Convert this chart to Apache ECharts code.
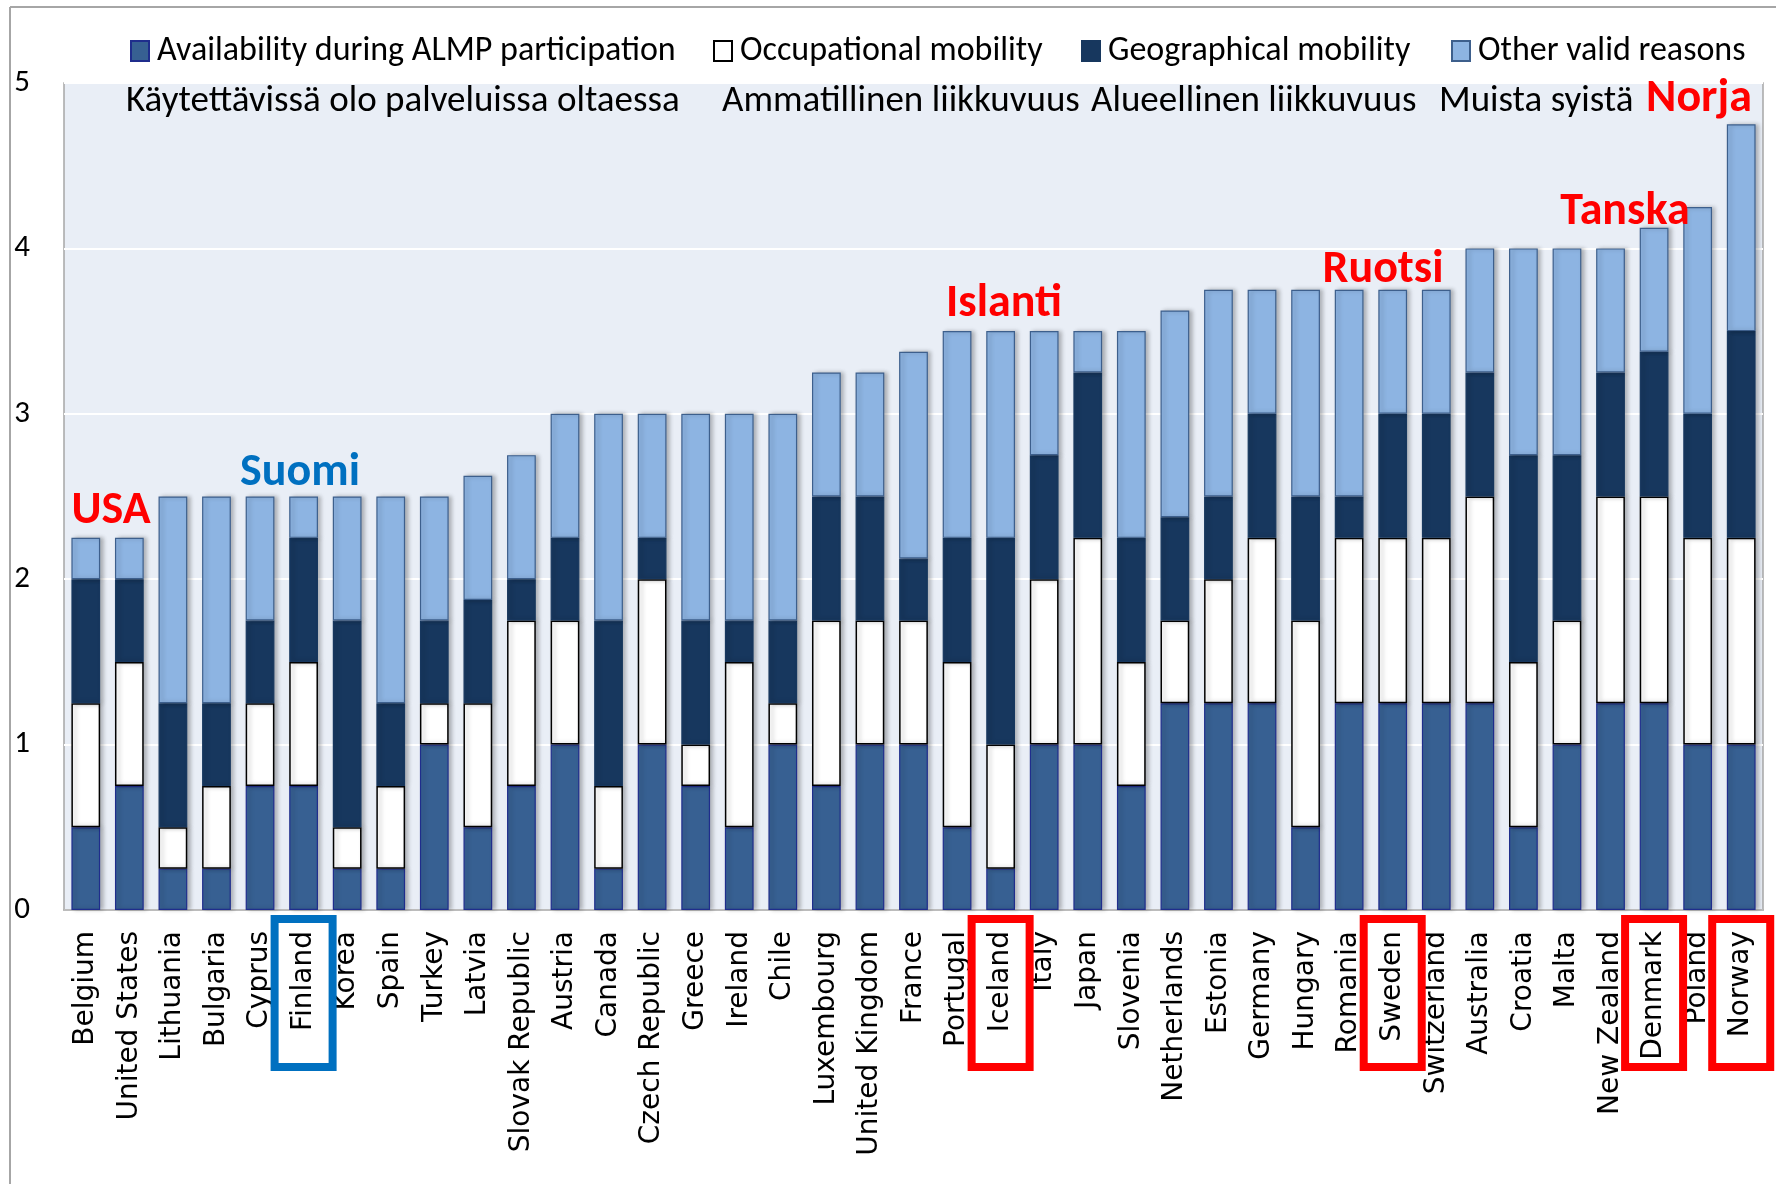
<!DOCTYPE html>
<html>
<head>
<meta charset="UTF-8">
<title>ALMP</title>
<script src="https://cdn.jsdelivr.net/npm/echarts@6/dist/echarts.min.js"></script>
<style>
html, body { margin: 0; padding: 0; background: #fff; }
#main { width: 1776px; height: 1184px; }
</style>
</head>
<body>
<div id="main"></div>
<script>
// categories, left to right
var countries = ['Belgium', 'United States', 'Lithuania', 'Bulgaria', 'Cyprus', 'Finland', 'Korea', 'Spain',
	'Turkey', 'Latvia', 'Slovak Republic', 'Austria', 'Canada', 'Czech Republic', 'Greece', 'Ireland', 'Chile',
	'Luxembourg', 'United Kingdom', 'France', 'Portugal', 'Iceland', 'Italy', 'Japan', 'Slovenia', 'Netherlands',
	'Estonia', 'Germany', 'Hungary', 'Romania', 'Sweden', 'Switzerland', 'Australia', 'Croatia', 'Malta',
	'New Zealand', 'Denmark', 'Poland', 'Norway'];

// stacked segments
var availability = [0.5, 0.75, 0.25, 0.25, 0.75, 0.75, 0.25, 0.25, 1, 0.5, 0.75, 1, 0.25, 1, 0.75, 0.5, 1,
	0.75, 1, 1, 0.5, 0.25, 1, 1, 0.75, 1.25, 1.25, 1.25, 0.5, 1.25, 1.25, 1.25, 1.25, 0.5, 1, 1.25, 1.25, 1, 1];
var occupational = [0.75, 0.75, 0.25, 0.5, 0.5, 0.75, 0.25, 0.5, 0.25, 0.75, 1, 0.75, 0.5, 1, 0.25, 1, 0.25,
	1, 0.75, 0.75, 1, 0.75, 1, 1.25, 0.75, 0.5, 0.75, 1, 1.25, 1, 1, 1, 1.25, 1, 0.75, 1.25, 1.25, 1.25, 1.25];
var geographical = [0.75, 0.5, 0.75, 0.5, 0.5, 0.75, 1.25, 0.5, 0.5, 0.625, 0.25, 0.5, 1, 0.25, 0.75, 0.25, 0.5,
	0.75, 0.75, 0.375, 0.75, 1.25, 0.75, 1, 0.75, 0.625, 0.5, 0.75, 0.75, 0.25, 0.75, 0.75, 0.75, 1.25, 1, 0.75, 0.875, 0.75, 1.25];
var otherReasons = [0.25, 0.25, 1.25, 1.25, 0.75, 0.25, 0.75, 1.25, 0.75, 0.75, 0.75, 0.75, 1.25, 0.75, 1.25, 1.25, 1.25,
	0.75, 0.75, 1.25, 1.25, 1.25, 0.75, 0.25, 1.25, 1.25, 1.25, 0.75, 1.25, 1.25, 0.75, 0.75, 0.75, 1.25, 1.25, 0.75, 0.75, 1.25, 1.25];

var seriesNames = ['Availability during ALMP participation', 'Occupational mobility', 'Geographical mobility', 'Other valid reasons'];
var finnishNames = ['Käytettävissä olo palveluissa oltaessa', 'Ammatillinen liikkuvuus', 'Alueellinen liikkuvuus', 'Muista syistä'];
var yTicks = [0, 1, 2, 3, 4, 5];

// country call-outs
var calloutText = ['USA', 'Suomi', 'Islanti', 'Ruotsi', 'Tanska', 'Norja'];
var boxedCountries = ['Finland', 'Iceland', 'Sweden', 'Denmark', 'Norway'];

var calibri = 'Carlito, Lato, sans-serif';
var segColors = ['#376092', '#ffffff', '#17375e', '#8db4e2'];
var segBorders = ['#1f2d8c', '#000000', '#17375e', '#3d5f8c'];
var segData = [availability, occupational, geographical, otherReasons];

var chart = echarts.init(document.getElementById('main'));

var series = seriesNames.map(function (name, i) {
	return {
		name: name,
		type: 'bar',
		stack: 'total',
		barWidth: '66%',
		data: segData[i],
		itemStyle: {
			color: segColors[i],
			borderColor: segBorders[i],
			borderWidth: i === 1 ? 1.5 : 1.2,
			shadowColor: 'rgba(0,0,0,0.25)',
			shadowBlur: 4,
			shadowOffsetX: 3
		},
		emphasis: { disabled: true }
	};
});

var legendLeft = [125, 708, 1076, 1446];
var legends = seriesNames.map(function (name, i) {
	return {
		data: [name],
		left: legendLeft[i],
		top: 29,
		icon: 'rect',
		itemWidth: 18,
		itemHeight: 20,
		textStyle: { fontFamily: calibri, fontSize: 34, color: '#000', padding: [0, 0, 0, 3] },
		selectedMode: false
	};
});

var finnishLeft = [126, 722, 1091, 1439];
var graphics = finnishNames.map(function (t, i) {
	return {
		type: 'text', x: finnishLeft[i], y: 102, z: 50,
		style: { text: t, font: '37px ' + calibri, fill: '#000', align: 'left', verticalAlign: 'middle' }
	};
});

// outer chart frame (top and left edge)
graphics.push({ type: 'line', shape: { x1: 10, y1: 7, x2: 1776, y2: 7 }, style: { stroke: '#a6a6a6', lineWidth: 2 } });
graphics.push({ type: 'line', shape: { x1: 10, y1: 7, x2: 10, y2: 1184 }, style: { stroke: '#a6a6a6', lineWidth: 2 } });

var calloutPos = [[111, 511], [300, 473], [1004, 304], [1383, 270], [1625, 212], [1699, 99]];
var calloutColor = ['#ff0000', '#0070c0', '#ff0000', '#ff0000', '#ff0000', '#ff0000'];
calloutText.forEach(function (t, i) {
	graphics.push({
		type: 'text', x: calloutPos[i][0], y: calloutPos[i][1], z: 60,
		style: { text: t, font: 'bold 46px ' + calibri, fill: calloutColor[i], align: 'center', verticalAlign: 'middle' }
	});
});

var option = {
	animation: false,
	backgroundColor: '#ffffff',
	legend: legends,
	grid: {
		left: 64, right: 13, top: 83, bottom: 274,
		show: true, backgroundColor: '#e9eef6', borderColor: '#a6a6a6', borderWidth: 1.5
	},
	xAxis: {
		type: 'category',
		data: countries,
		axisLine: { lineStyle: { color: '#a6a6a6', width: 1.5 } },
		axisTick: { show: false },
		axisLabel: {
			interval: 0, rotate: 90, margin: 21,
			fontFamily: 'DejaVu Sans', fontSize: 28, color: '#000'
		}
	},
	yAxis: {
		type: 'value',
		min: yTicks[0], max: yTicks[yTicks.length - 1], interval: 1,
		axisLine: { show: false },
		axisTick: { show: false },
		splitLine: { lineStyle: { color: '#ffffff', width: 2 } },
		axisLabel: { margin: 34, fontFamily: calibri, fontSize: 31, color: '#000' }
	},
	series: series,
	graphic: graphics
};

chart.setOption(option);

// boxes round the highlighted country names
boxedCountries.forEach(function (c) {
	var cx = chart.convertToPixel({ xAxisIndex: 0 }, c);
	graphics.push({
		type: 'rect', z: 70,
		shape: { x: cx - 29, y: 919, width: 58, height: 148 },
		style: { fill: 'none', stroke: c === 'Finland' ? '#0070c0' : '#ff0000', lineWidth: 8 }
	});
});
chart.setOption({ graphic: graphics });
</script>
</body>
</html>
